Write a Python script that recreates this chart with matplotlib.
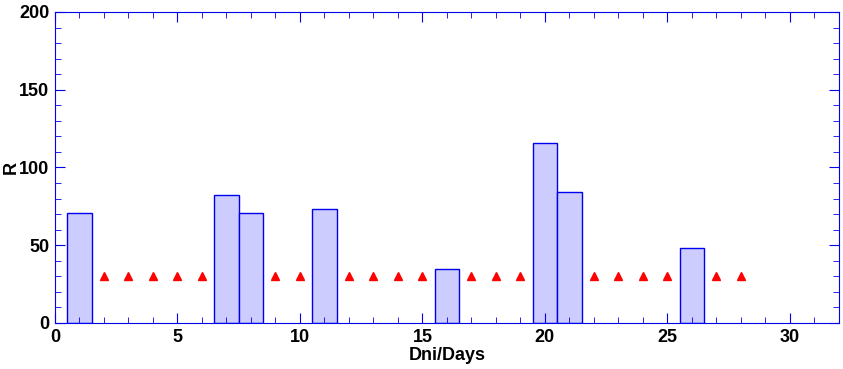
import numpy as np
from matplotlib import pyplot as plt
from matplotlib.ticker import MultipleLocator

# days with a measured R value (bars)
bar_days = [1, 7, 8, 11, 16, 20, 21, 26]
bar_values = [71, 82, 71, 73, 35, 116, 84, 48]

# days without data (red triangles)
tri_days = [2, 3, 4, 5, 6, 9, 10, 12, 13, 14, 15, 17, 18, 19, 22, 23, 24, 25, 27, 28]
tri_values = [30] * len(tri_days)

plt.rcParams['font.family'] = ['Liberation Sans', 'DejaVu Sans']
plt.rcParams['font.weight'] = 'bold'

fig = plt.figure(figsize=(8.43, 3.69), dpi=100)
ax = fig.add_axes([0.0652, 0.1247, 0.9298, 0.8428])

ax.bar(bar_days, bar_values, width=1.0, color='#ccccff', edgecolor='#0000ee', linewidth=1)
ax.plot(tri_days, tri_values, linestyle='none', marker='^', color='#ff0000', markersize=5.5)

ax.set_xlim(0, 32)
ax.set_ylim(0, 200)
ax.xaxis.set_major_locator(MultipleLocator(5))
ax.xaxis.set_minor_locator(MultipleLocator(1))
ax.yaxis.set_major_locator(MultipleLocator(50))
ax.yaxis.set_minor_locator(MultipleLocator(10))

for s in ax.spines.values():
    s.set_color('#0000ee')
ax.tick_params(which='both', direction='in', color='#0000ee', top=True, right=True,
               labelsize=13, pad=4)
ax.tick_params(which='major', length=7)
ax.tick_params(which='minor', length=4)

ax.set_xlabel('Dni/Days', fontsize=13, fontweight='bold', labelpad=1)
ax.set_ylabel('R', fontsize=13, fontweight='bold')
ax.yaxis.set_label_coords(-0.045, 0.5)

fig.savefig('out.png', dpi=100)
